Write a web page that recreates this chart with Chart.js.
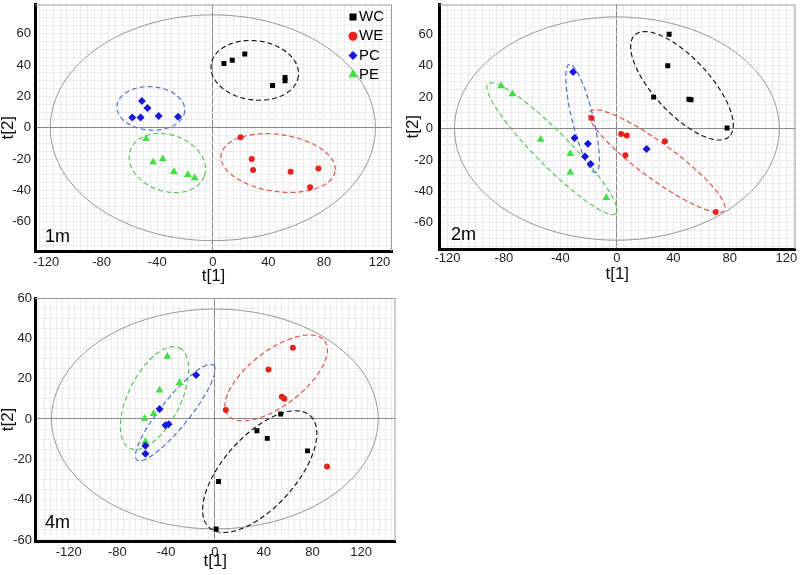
<!DOCTYPE html>
<html>
<head>
<meta charset="utf-8">
<script src="https://cdn.jsdelivr.net/npm/chart.js@4.4.0/dist/chart.umd.min.js"></script>
<style>
    body { margin: 0; background: #fff; width: 800px; height: 575px; position: relative; overflow: hidden; }
    canvas { position: absolute; }
</style>
</head>
<body>
<canvas id="chart1m" width="400" height="285" style="left:0;top:0"></canvas>
<canvas id="chart2m" width="400" height="285" style="left:400px;top:0"></canvas>
<canvas id="chart4m" width="400" height="290" style="left:0;top:285px"></canvas>

<script>
// Groups in legend order
const groupNames = ['WC', 'WE', 'PC', 'PE'];

// Tick labels shown on the axes
const xTickLabels = [-120, -80, -40, 0, 40, 80, 120];
const yTickLabels = [-60, -40, -20, 0, 20, 40, 60];

// Scores [t1, t2] - 1 month
const wc1m = [[8, 41], [14, 43], [23, 47], [43, 27], [52, 32], [52, 30]];
const we1m = [[20, -6], [28, -20], [29, -27], [56, -28], [76, -26], [70, -38]];
const pc1m = [[-58, 6.5], [-51, 17], [-47, 12.6], [-52, 6.5], [-39, 7.5], [-25, 7]];
const pe1m = [[-48, -7], [-43, -22], [-36, -20], [-28, -28], [-18, -30], [-13, -32]];

// 2 months
const wc2m = [[37, 60], [36, 40], [26, 20], [51, 18.6], [52.5, 18.3], [78, 0.4]];
const we2m = [[-18, 6.7], [3, -3.5], [7, -4.4], [6, -17], [34, -8], [70, -53]];
const pc2m = [[-31, 36], [-30, -6], [-20.5, -9.6], [-22.6, -17.7], [-18.6, -22.5], [21, -13]];
const pe2m = [[-82, 27], [-74, 22], [-54, -7], [-33, -16], [-33, -28], [-7.5, -44]];

// 4 months
const wc4m = [[1, -54.5], [3, -31], [34.5, -5.8], [43, -9.6], [76, -15.8], [54, 2.5]];
const we4m = [[9, 4.4], [44, 24.6], [55, 11], [57, 10], [64, 35.3], [92, -23.5]];
const pc4m = [[-15.4, 21.8], [-45.4, 5], [-40.5, -3.1], [-38, -2.6], [-57, -13.3], [-57, -17.2]];
const pe4m = [[-39, 31], [-29, 18], [-45.4, 14.3], [-50.3, 2.6], [-57.7, 0.3], [-57, -11.3]];

// Group ellipses: [cx, cy, ax, ay, bx, by] - centre and two conjugate semi-axes, data units
const ell1m = [
    [30.2, 36.6, 31.4, -3.7, -2.9, -18.7],
    [47, -22.5, 41, -5.2, -3.0, -18.0],
    [-44.6, 12.3, 24.4, -1.5, -1.1, -13.8],
    [-32.7, -22.5, 26.6, -8.4, -7.0, -16.9]
];
const ell2m = [
    [46.1, 27.2, 33.3, -32.4, -14.6, -11.8],
    [28.4, -20.7, 47.6, -31.4, -7.6, -9.0],
    [-24.3, 6.4, 9.4, -34.4, -7.3, -1.6],
    [-46, -12.8, 45.3, -41.2, -8.6, -7.5]
];
const ell4m = [
    [36.8, -26.1, 41.5, 27.7, 21.8, -12.0],
    [50.3, 20.4, 39.8, 18.3, 13.5, -10.9],
    [-32.5, 3.2, 31.3, 23.5, 9.1, -4.5],
    [-49.5, 10.4, 20.5, 24.8, 19.1, -5.9]
];

// Hotelling T2 ellipse radii [t1, t2]
const t2Radii1m = [117, 72];
const t2Radii2m = [115, 71];
const t2Radii4m = [134, 54.5];

// Axis limits
const xRange1m = [-128, 129], yRange1m = [-78.6, 78.6];
const xRange2m = [-126, 126.5], yRange2m = [-76.6, 78.9];
const xRange4m = [-147.6, 148.2], yRange4m = [-60.5, 60];

// Styles
const FONT = 'Liberation Sans, Arial, sans-serif';
const markerColors = ['#000000', '#e5231c', '#1616d8', '#3fe03f'];
const ellipseColors = ['#1a1a1a', '#e0564c', '#5272cc', '#5cc45c'];
const markerStyles = ['rect', 'circle', 'rectRot', 'triangle'];
const markerRadius = [3.5, 3, 4, 4.5];

// Trace an ellipse path through the chart scales
function traceEllipse(chart, e) {
    const xs = chart.scales.x, ys = chart.scales.y, ctx = chart.ctx;
    const [cx, cy, ax, ay, bx, by] = e;
    ctx.beginPath();
    for (let i = 0; i <= 200; i++) {
        const t = i / 200 * Math.PI * 2;
        const px = xs.getPixelForValue(cx + ax * Math.cos(t) + bx * Math.sin(t));
        const py = ys.getPixelForValue(cy + ay * Math.cos(t) + by * Math.sin(t));
        if (i === 0) ctx.moveTo(px, py); else ctx.lineTo(px, py);
    }
    ctx.closePath();
}

const ellipsePlugin = {
    id: 'ellipses',
    beforeDatasetsDraw(chart, args, opts) {
        const ctx = chart.ctx, a = chart.chartArea;
        ctx.save();
        // top / right frame
        ctx.strokeStyle = '#9a9a9a';
        ctx.lineWidth = 1;
        ctx.beginPath();
        ctx.moveTo(a.left, a.top + 0.5);
        ctx.lineTo(a.right - 0.5, a.top + 0.5);
        ctx.lineTo(a.right - 0.5, a.bottom);
        ctx.stroke();

        ctx.beginPath();
        ctx.rect(a.left, a.top, a.right - a.left, a.bottom - a.top);
        ctx.clip();

        // Hotelling T2 ellipse
        traceEllipse(chart, [0, 0, opts.t2[0], 0, 0, opts.t2[1]]);
        ctx.strokeStyle = '#959595';
        ctx.lineWidth = 1;
        ctx.stroke();

        // group ellipses
        ctx.setLineDash([5, 3]);
        ctx.lineWidth = 1.2;
        opts.groups.forEach((e, i) => {
            traceEllipse(chart, e);
            ctx.strokeStyle = ellipseColors[i];
            ctx.stroke();
        });
        ctx.restore();
    },
    afterDatasetsDraw(chart, args, opts) {
        const ctx = chart.ctx, a = chart.chartArea;
        ctx.save();
        ctx.fillStyle = '#000';
        ctx.font = '18px ' + FONT;
        ctx.textBaseline = 'alphabetic';
        ctx.fillText(opts.tag, a.left + opts.tagOffset[0], a.bottom - opts.tagOffset[1]);

        if (opts.legend) {
            ctx.font = '15px ' + FONT;
            ctx.textBaseline = 'middle';
            const legendRadius = [5, 4.5, 4.5, 5.5];
            groupNames.forEach((name, i) => {
                const y = a.top + 12.5 + i * 19.2;
                ctx.fillStyle = markerColors[i];
                Chart.helpers.drawPoint(ctx, { pointStyle: markerStyles[i], radius: legendRadius[i], rotation: 0, borderWidth: 0 }, a.right - 39, y);
                ctx.fillStyle = '#000';
                ctx.fillText(name, a.right - 33, y);
            });
        }
        ctx.restore();
    }
};

function axisOptions(range, labels, size, tickPad, title, titlePad, horizontal) {
    return {
        type: 'linear',
        min: range[0],
        max: range[1],
        afterBuildTicks: scale => {
            const ticks = [];
            for (let v = Math.ceil(range[0] / 5) * 5; v <= range[1]; v += 5) ticks.push({ value: v });
            scale.ticks = ticks;
        },
        afterFit: scale => {
            if (horizontal) scale.height = size; else scale.width = size;
            // no extra room for overhanging tick labels
            scale.paddingTop = 0;
            scale.paddingBottom = 0;
            scale.paddingLeft = 0;
            scale.paddingRight = 0;
        },
        grid: {
            color: c => (c.tick && c.tick.value === 0) ? '#8a8a8a' : '#ebebeb',
            lineWidth: 1,
            drawTicks: false
        },
        border: { color: '#000', width: 3 },
        ticks: {
            autoSkip: false,
            maxRotation: 0,
            padding: tickPad,
            color: '#222',
            font: { family: FONT, size: 13 },
            callback: v => labels.includes(v) ? String(v) : ''
        },
        title: {
            display: true,
            text: title,
            color: '#111',
            font: { family: FONT, size: 17, lineHeight: 1 },
            padding: titlePad
        }
    };
}

function buildChart(id, p) {
    const datasets = p.scores.map((pts, i) => ({
        label: groupNames[i],
        data: pts.map(q => ({ x: q[0], y: q[1] })),
        pointStyle: markerStyles[i],
        pointRadius: markerRadius[i],
        pointBackgroundColor: markerColors[i],
        pointBorderWidth: 0
    }));
    return new Chart(document.getElementById(id), {
        type: 'scatter',
        data: { datasets },
        options: {
            responsive: false,
            animation: false,
            devicePixelRatio: 1,
            layout: { padding: p.padding },
            plugins: {
                legend: { display: false },
                tooltip: { enabled: false },
                ellipses: { t2: p.t2, groups: p.ellipses, tag: p.tag, tagOffset: p.tagOffset, legend: p.legend }
            },
            scales: {
                x: axisOptions(p.xRange, xTickLabels, p.xHeight, p.xTickPad, 't[1]', { top: 0, bottom: p.xTitlePad }, true),
                y: axisOptions(p.yRange, yTickLabels, p.yWidth, p.yTickPad, 't[2]', { top: p.yTitlePad, bottom: 0 }, false)
            }
        },
        plugins: [ellipsePlugin]
    });
}

document.addEventListener('DOMContentLoaded', function () {
    buildChart('chart1m', {
        scores: [wc1m, we1m, pc1m, pe1m], ellipses: ell1m, t2: t2Radii1m,
        xRange: xRange1m, yRange: yRange1m, tag: '1m', tagOffset: [10, 9], legend: true,
        padding: { left: 0, top: -2, right: 8, bottom: 0 },
        yWidth: 35, xHeight: 34, xTickPad: 4, yTickPad: 4, xTitlePad: 0, yTitlePad: 0
    });
    buildChart('chart2m', {
        scores: [wc2m, we2m, pc2m, pe2m], ellipses: ell2m, t2: t2Radii2m,
        xRange: xRange2m, yRange: yRange2m, tag: '2m', tagOffset: [12, 9], legend: false,
        padding: { left: 0, top: -2, right: 3, bottom: 0 },
        yWidth: 39, xHeight: 36, xTickPad: 2, yTickPad: 6, xTitlePad: 2, yTitlePad: 5
    });
    buildChart('chart4m', {
        scores: [wc4m, we4m, pc4m, pe4m], ellipses: ell4m, t2: t2Radii4m,
        xRange: xRange4m, yRange: yRange4m, tag: '4m', tagOffset: [10, 13], legend: false,
        padding: { left: 0, top: 13, right: 3, bottom: 0 },
        yWidth: 35, xHeight: 34, xTickPad: 4, yTickPad: 3, xTitlePad: 5, yTitlePad: 0
    });
});
</script>
</body>
</html>
